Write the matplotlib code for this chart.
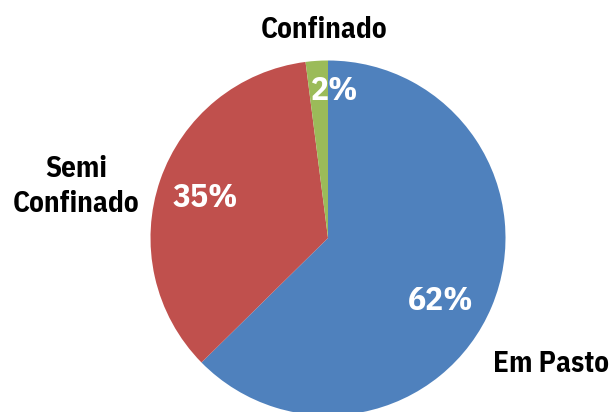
import matplotlib.pyplot as plt

labels = ["Em Pasto", "Semi\nConfinado", "Confinado"]
values = [62, 35, 2]
pct_text = ["62%", "35%", "2%"]
colors = ["#4F81BD", "#C0504D", "#9BBB59"]

plt.rcParams['font.family'] = ['IBM Plex Sans Condensed', 'Fira Sans Condensed', 'Liberation Sans', 'DejaVu Sans']

fig = plt.figure(figsize=(6.15, 4.12), dpi=100)
# pie centre ~ (328, 238) px, radius ~ 177 px
r_px = 177.5
ax = fig.add_axes([(328 - r_px) / 615, (174 - r_px) / 412, 2 * r_px / 615, 2 * r_px / 412])

wedges, texts = ax.pie(values, labels=labels, colors=colors, startangle=90,
                       counterclock=False, radius=1.0,
                       wedgeprops=dict(linewidth=0))
ax.set_xlim(-1, 1)
ax.set_ylim(-1, 1)
ax.set_aspect('equal')
ax.axis('off')

# category labels (baseline positions)
label_pos = [(1.256, -0.755), (-1.42, 0.146), (-0.023, 1.127)]
for t, p in zip(texts, label_pos):
    t.set_position(p)
    t.set_ha('center')
    t.set_va('baseline')
    t.set_fontsize(21)
    t.set_fontweight('bold')
    t.set_multialignment('center')
    t.set_linespacing(1.3)
    t.set_clip_on(False)

# percent labels
pct_pos = [(0.637, -0.406), (-0.693, 0.175), (0.039, 0.777)]
for s, p in zip(pct_text, pct_pos):
    ax.text(p[0], p[1], s, ha='center', va='baseline', color='white',
            fontsize=24, fontweight='bold')

fig.savefig("out.png", dpi=100)
